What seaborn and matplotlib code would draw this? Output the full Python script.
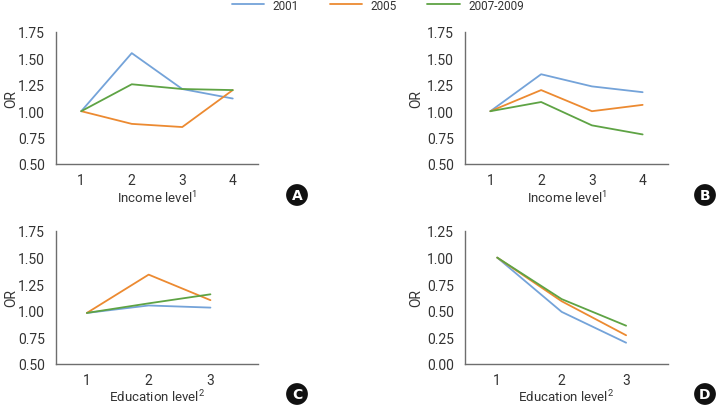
import matplotlib
matplotlib.use("Agg")
import matplotlib.pyplot as plt
import seaborn as sns
import pandas as pd

sns.set_style("white")
FONT = ['Roboto', 'DejaVu Sans']
plt.rcParams['font.family'] = FONT
plt.rcParams['mathtext.default'] = 'regular'

series = ["2001", "2005", "2007-2009"]
colors = ["#74a3d9", "#ec8a31", "#5ea344"]

income_x = [1, 2, 3, 4]
educ_x = [1, 2, 3]

A_2001 = [1.00, 1.55, 1.21, 1.12]
A_2005 = [1.00, 0.88, 0.85, 1.20]
A_2007 = [1.00, 1.255, 1.21, 1.20]

B_2001 = [1.00, 1.35, 1.235, 1.18]
B_2005 = [1.00, 1.20, 1.00, 1.06]
B_2007 = [1.00, 1.087, 0.866, 0.78]

C_2001 = [0.98, 1.05, 1.03]
C_2005 = [0.98, 1.34, 1.10]
C_2007 = [0.98, 1.07, 1.155]

D_2001 = [1.00, 0.49, 0.20]
D_2005 = [1.00, 0.59, 0.27]
D_2007 = [1.00, 0.61, 0.36]

yticks_top = [0.50, 0.75, 1.00, 1.25, 1.50, 1.75]
yticks_D = [0.00, 0.25, 0.50, 0.75, 1.00, 1.25]

panels = [
    ("A", income_x, [A_2001, A_2005, A_2007], "Income level$^{1}$", yticks_top, (0.5, 4.5)),
    ("B", income_x, [B_2001, B_2005, B_2007], "Income level$^{1}$", yticks_top, (0.5, 4.5)),
    ("C", educ_x, [C_2001, C_2005, C_2007], "Education level$^{2}$", yticks_top, (0.5, 3.77)),
    ("D", educ_x, [D_2001, D_2005, D_2007], "Education level$^{2}$", yticks_D, (0.5, 3.65)),
]

W, H = 717, 406
fig = plt.figure(figsize=(W / 100, H / 100), dpi=100)

rects = {
    "A": (56, 33, 258, 165),
    "B": (465, 33, 668, 165),
    "C": (56, 232, 258, 365),
    "D": (465, 232, 668, 365),
}
badge = {"A": (297, 196), "B": (705, 196), "C": (297, 395), "D": (705, 395)}
orx = {"A": 11, "B": 416, "C": 11, "D": 416}
xlab_y = {"A": 198, "B": 198, "C": 397, "D": 397}

text_c = "#333333"
spine_c = "#6e6e6e"

for name, xs, vals, xlabel, yt, xlim in panels:
    l, t, r, b = rects[name]
    ax = fig.add_axes([l / W, 1 - b / H, (r - l) / W, (b - t) / H])
    rows = []
    for s, v in zip(series, vals):
        for x, y in zip(xs, v):
            rows.append({"x": x, "OR": y, "series": s})
    df = pd.DataFrame(rows)
    sns.lineplot(data=df, x="x", y="OR", hue="series", palette=colors,
                 hue_order=series, ax=ax, linewidth=1.3, legend=False)
    ax.set_xlim(*xlim)
    ax.set_ylim(yt[0], yt[-1])
    ax.set_xticks(xs)
    ax.set_xticklabels([str(x) for x in xs])
    ax.set_yticks(yt)
    ax.set_yticklabels([f"{v:.2f}" for v in yt])
    for sp in ["top", "right"]:
        ax.spines[sp].set_visible(False)
    for sp in ["left", "bottom"]:
        ax.spines[sp].set_color(spine_c)
        ax.spines[sp].set_linewidth(1.0)
    ax.tick_params(axis="both", which="both", length=4, width=0.8, color=spine_c,
                   labelsize=10, labelcolor=text_c, direction="out", pad=4)
    ax.tick_params(axis="x", pad=2.5)
    ax.set_xlabel(xlabel, fontsize=9.5, color=text_c, va="center")
    ax.xaxis.set_label_coords(0.5, (b - xlab_y[name]) / (b - t))
    ax.set_ylabel("OR", fontsize=10, color=text_c, va="center")
    ax.yaxis.set_label_coords((orx[name] - l) / (r - l), 0.5)
    bx, by = badge[name]
    fig.text(bx / W, 1 - by / H, name, ha="center", va="center", color="white",
             fontsize=10, fontweight="bold", family=['DejaVu Sans'],
             bbox=dict(boxstyle="circle,pad=0.28", fc="#111111", ec="none"))

# legend at top
leg_items = [(232, 264, 272), (330, 362, 370), (427, 460, 468)]
for (x0, x1, tx), s, c in zip(leg_items, series, colors):
    fig.add_artist(plt.Line2D([x0 / W, x1 / W], [1 - 5 / H, 1 - 5 / H], color=c,
                              linewidth=1.3, transform=fig.transFigure))
    fig.text(tx / W, 1 - 6.5 / H, s, ha="left", va="center", fontsize=8.5, color=text_c)

fig.savefig("out.png", dpi=100)
